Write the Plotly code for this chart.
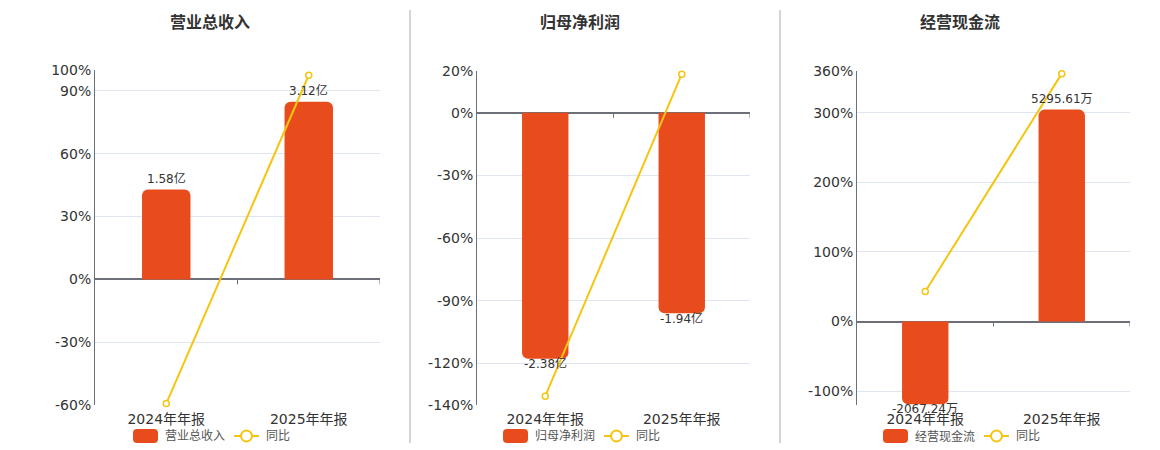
import plotly.graph_objects as go

# categories and values
periods = ["2024年年报", "2025年年报"]

revenue = [1.58, 3.12]          # 亿
revenue_yoy = [-59.3, 97.5]     # %
profit = [-2.38, -1.94]         # 亿
profit_yoy = [-135.8, 18.5]     # %
cashflow = [-2067.24, 5295.61]  # 万
cashflow_yoy = [43.0, 356.2]    # %

titles = ["营业总收入", "归母净利润", "经营现金流"]
units = ["亿", "亿", "万"]
pct_ticks = [
    [-60, -30, 0, 30, 60, 90, 100],
    [-140, -120, -90, -60, -30, 0, 20],
    [-100, 0, 100, 200, 300, 360],
]
pct_ranges = [[-60, 100], [-140, 20], [-120, 360]]
bar_scale = [27.2, 49.5, 0.0575]  # percent units per bar unit

BAR = "#E84C1D"
LINE = "#F4C511"
AXIS = "#6E7079"
GRID = "#E0E6F1"
TXT = "#333333"
FONT = "DejaVu Sans, Noto Sans CJK SC, sans-serif"

# the page body has an 8px margin, so the figure is a bit smaller
# and every pixel position below is given in window pixels
OFF = 8
W, H = 1160 - OFF, 450 - OFF
panels_x = [(95, 380), (477, 750), (857, 1130)]
panels_y = [(70, 405), (71, 405), (71, 405)]
title_x = [210, 580, 960]
legend_x = [133, 503, 883]

series = [(revenue, revenue_yoy), (profit, profit_yoy), (cashflow, cashflow_yoy)]

fig = go.Figure()
layout = dict(width=W, height=H, margin=dict(l=0, r=0, t=0, b=0, autoexpand=False),
              paper_bgcolor="white", plot_bgcolor="white",
              font=dict(family=FONT, color=TXT, size=14),
              showlegend=False, shapes=[], annotations=[])


def px_x(v):
    return (v - OFF) / W


def px_y(v):
    return 1 - (v - OFF) / H


def rounded_rect(x0, y0, x1, y1, r):
    # path in paper coords for a rounded box given in window pixels
    pts = [
        ("M", [(x0 + r, y0)]), ("L", [(x1 - r, y0)]), ("Q", [(x1, y0), (x1, y0 + r)]),
        ("L", [(x1, y1 - r)]), ("Q", [(x1, y1), (x1 - r, y1)]),
        ("L", [(x0 + r, y1)]), ("Q", [(x0, y1), (x0, y1 - r)]),
        ("L", [(x0, y0 + r)]), ("Q", [(x0, y0), (x0 + r, y0)]),
    ]
    out = ""
    for cmd, ps in pts:
        out += cmd + " ".join(f"{px_x(a):.5f},{px_y(b):.5f}" for a, b in ps) + " "
    return out + "Z"


for i in range(3):
    n = i + 1
    xa = "x" if n == 1 else f"x{n}"
    ybar = "y" if n == 1 else f"y{2 * n - 1}"
    ypct = f"y{2 * n}"
    vals, yoy = series[i]
    labels = [f"{v:.2f}{units[i]}" for v in vals]

    fig.add_trace(go.Bar(
        x=periods, y=vals, xaxis=xa, yaxis=ybar, width=0.34,
        marker=dict(color=BAR, cornerradius=6, line=dict(width=0)),
        name=titles[i],
    ))
    fig.add_trace(go.Scatter(
        x=periods, y=yoy, xaxis=xa, yaxis=ypct, mode="lines+markers",
        line=dict(color=LINE, width=2),
        marker=dict(symbol="circle", size=6, color="white",
                    line=dict(color=LINE, width=1.5)),
        cliponaxis=False, name="同比",
    ))

    # value labels just past the end of each bar
    for p, v, lab in zip(periods, vals, labels):
        layout["annotations"].append(dict(
            text=lab, x=p, y=v, xref=xa, yref=ybar, showarrow=False,
            xanchor="center", yanchor="middle", yshift=11 if v >= 0 else -5,
            font=dict(size=12, color=TXT)))

    x0, x1 = panels_x[i]
    yt, yb = panels_y[i]
    dom_x = [px_x(x0), px_x(x1)]
    dom_y = [px_y(yb), px_y(yt)]
    lo, hi = pct_ranges[i]
    k = bar_scale[i]

    xkey = "xaxis" if n == 1 else f"xaxis{n}"
    bkey = "yaxis" if n == 1 else f"yaxis{2 * n - 1}"
    pkey = f"yaxis{2 * n}"
    layout[xkey] = dict(domain=dom_x, anchor=ybar, range=[-0.5, 1.5],
                        showgrid=False, showline=False, ticks="",
                        automargin=False, ticklabelstandoff=4,
                        tickfont=dict(size=14, color=TXT), fixedrange=True)
    layout[bkey] = dict(domain=dom_y, anchor=xa, range=[lo / k, hi / k],
                        visible=False, automargin=False, fixedrange=True)
    layout[pkey] = dict(domain=dom_y, anchor=xa, overlaying=ybar, side="left",
                        range=[lo, hi], tickvals=pct_ticks[i],
                        ticktext=[f"{t}%" for t in pct_ticks[i]],
                        showgrid=True, gridcolor=GRID, gridwidth=1,
                        zeroline=True, zerolinecolor=AXIS, zerolinewidth=2,
                        showline=True, linecolor=AXIS, linewidth=1,
                        ticks="", automargin=False,
                        tickfont=dict(size=14, color=TXT), fixedrange=True)

    # small category ticks hanging from the zero line
    for xv in [0.5, 1.5]:
        layout["shapes"].append(dict(
            type="line", xref=xa, yref=ypct, x0=xv, x1=xv,
            ysizemode="pixel", yanchor=0, y0=0, y1=-5,
            line=dict(color=AXIS, width=1)))

    # panel title
    layout["annotations"].append(dict(
        text=f"<b>{titles[i]}</b>", x=px_x(title_x[i]), y=px_y(22),
        xanchor="center", yanchor="middle",
        xref="paper", yref="paper", showarrow=False,
        font=dict(size=16, color=TXT)))

    # legend drawn by hand
    lx = legend_x[i]
    layout["shapes"].append(dict(
        type="path", xref="paper", yref="paper",
        path=rounded_rect(lx, 429, lx + 25, 443, 4),
        fillcolor=BAR, line=dict(width=0)))
    layout["annotations"].append(dict(
        text=titles[i], x=px_x(lx + 30), y=px_y(436),
        xanchor="left", yanchor="middle",
        xref="paper", yref="paper", showarrow=False,
        font=dict(size=12, color="#555555")))
    sx = lx + 101
    layout["shapes"].append(dict(
        type="line", xref="paper", yref="paper",
        x0=px_x(sx), x1=px_x(sx + 25), y0=px_y(436), y1=px_y(436),
        line=dict(color=LINE, width=2)))
    layout["shapes"].append(dict(
        type="circle", xref="paper", yref="paper",
        x0=px_x(sx + 7), x1=px_x(sx + 18), y0=px_y(441.5), y1=px_y(430.5),
        fillcolor="white", line=dict(color=LINE, width=2)))
    layout["annotations"].append(dict(
        text="同比", x=px_x(sx + 30), y=px_y(436),
        xanchor="left", yanchor="middle",
        xref="paper", yref="paper", showarrow=False,
        font=dict(size=12, color="#555555")))

# separators between the panels
for sx in [410, 780]:
    layout["shapes"].append(dict(
        type="line", xref="paper", yref="paper",
        x0=px_x(sx), x1=px_x(sx), y0=px_y(443), y1=px_y(10),
        line=dict(color="#AAAAAA", width=1)))

fig.update_layout(**layout)
fig.write_html("out.html")
